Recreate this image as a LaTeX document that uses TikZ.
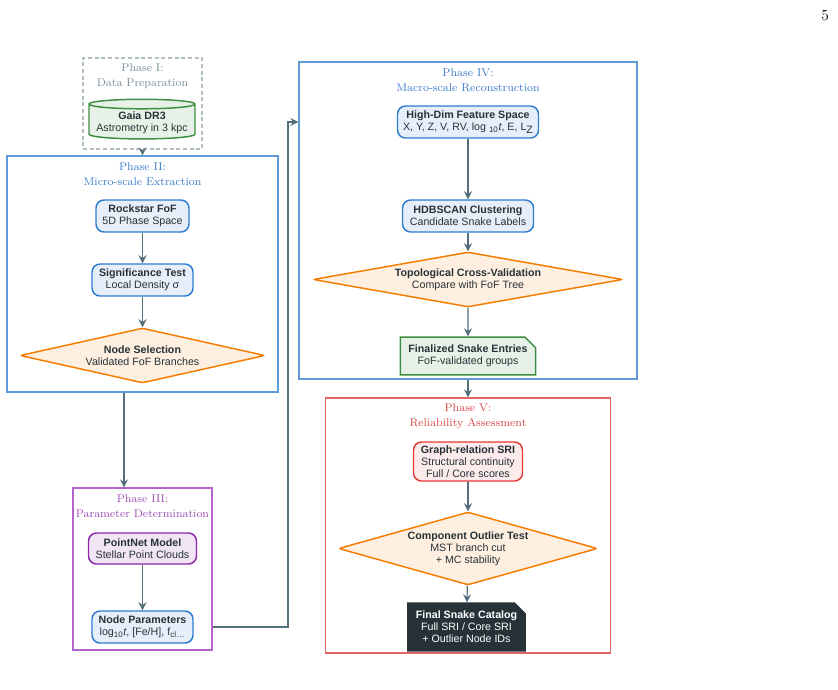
\documentclass[tikz,border=0pt]{standalone}
\usepackage{fontspec}
\setsansfont{Liberation Sans}
\usetikzlibrary{arrows.meta, positioning, shapes.geometric, shapes.misc, calc}
\definecolor{grisPizarra}{HTML}{546E7A}
\definecolor{grisTinta}{HTML}{263238}
\definecolor{grisMarco}{HTML}{B0BEC5}
\definecolor{grisTitulo}{HTML}{78909C}
\definecolor{azulNodo}{HTML}{2F7BD0}
\definecolor{azulMarco}{HTML}{5C9BD6}
\definecolor{azulTitulo}{HTML}{3D7CC9}
\definecolor{verdeNodo}{HTML}{3E8E41}
\definecolor{naranjaNodo}{HTML}{F57C00}
\definecolor{moradoNodo}{HTML}{8E24AA}
\definecolor{moradoMarco}{HTML}{B565C9}
\definecolor{moradoTitulo}{HTML}{9C4DB5}
\definecolor{rojoNodo}{HTML}{E53935}
\definecolor{rojoMarco}{HTML}{E06666}
\definecolor{rojoTitulo}{HTML}{D84545}
\colorlet{colArrow}{grisPizarra}
\colorlet{colText}{grisTinta}
\colorlet{colData}{verdeNodo}
\colorlet{colStep}{azulNodo}
\colorlet{colCheck}{naranjaNodo}
\colorlet{colModel}{moradoNodo}
\colorlet{colScore}{rojoNodo}
\tikzset{
  boxBase/.style={
    draw, line width=1.1pt, rounded corners=6pt,
    inner sep=2pt, align=center, text=colText,
    font=\sffamily\fontsize{8}{9}\selectfont
  },
  boxStep/.style={boxBase, draw=colStep, fill=colStep!12},
  boxModel/.style={boxBase, draw=colModel, fill=colModel!12},
  boxScore/.style={boxBase, draw=colScore, fill=colScore!10},
  boxCheck/.style={boxBase, diamond, aspect=#1, rounded corners=2pt, inner sep=0pt,
    draw=colCheck, fill=colCheck!12},
  boxData/.style={boxBase, cylinder, shape border rotate=90, aspect=0.1,
    rounded corners=0pt, inner sep=1.5pt, draw=colData, fill=colData!12},
  boxNote/.style={boxBase, chamfered rectangle,
    chamfered rectangle corners=north east,
    chamfered rectangle xsep=4pt, chamfered rectangle ysep=4pt,
    rounded corners=0pt,
    path picture={\draw[line width=0.6pt, draw=#1]
      ([xshift=-4pt]path picture bounding box.north east) |-
      ([yshift=-4pt]path picture bounding box.north east);}},
  boxFinal/.style={boxNote=white, draw=colText, fill=colText, text=white},
  phaseFrame/.style={draw, line width=0.9pt, inner sep=0pt},
  phaseTitle/.style={font=\fontsize{8.4}{11.25}\selectfont, align=center},
  flow/.style={-{Stealth[length=6pt, width=6pt, inset=2pt]}, line width=0.9pt, colArrow},
}
\begin{document}
\begin{tikzpicture}[x=0.75pt, y=-0.75pt]
  \useasboundingbox (0,0) rectangle (838,689);

  \node[phaseFrame, draw=grisMarco, dash pattern=on 3pt off 2pt,
    minimum width=89.25pt, minimum height=68.25pt] (p1) at (142.5,103.5) {};
  \node[phaseTitle, text=grisTitulo] (t1) at (142.5,76.5) {Phase I:\\Data Preparation};
  \node[phaseFrame, draw=azulMarco, minimum width=203.25pt, minimum height=177pt] (p2) at (142.5,274) {};
  \node[phaseTitle, text=azulTitulo] (t2) at (142.5,174.5) {Phase II:\\Micro-scale Extraction};
  \node[phaseFrame, draw=moradoMarco, minimum width=104.25pt, minimum height=121.5pt] (p3) at (142.5,569) {};
  \node[phaseTitle, text=moradoTitulo] (t3) at (142.5,506.5) {Phase III:\\Parameter Determination};
  \node[phaseFrame, draw=azulMarco, minimum width=253.5pt, minimum height=237.75pt] (p4) at (468,220.5) {};
  \node[phaseTitle, text=azulTitulo] (t4) at (468,80.5) {Phase IV:\\Macro-scale Reconstruction};
  \node[phaseFrame, draw=rojoMarco, minimum width=213.75pt, minimum height=191.25pt] (p5) at (468,525.5) {};
  \node[phaseTitle, text=rojoTitulo] (t5) at (468,416.5) {Phase V:\\Reliability Assessment};

  \node[boxData, minimum width=79.5pt, minimum height=27.75pt] (gaia) at (142,122.5)
    {\textbf{Gaia DR3}\\Astrometry in 3 kpc};
  \node[boxStep, minimum width=69.75pt, minimum height=24pt] (rock) at (142.5,216)
    {\textbf{Rockstar FoF}\\5D Phase Space};
  \node[boxStep, minimum width=75.75pt, minimum height=24pt] (sig) at (142.5,280)
    {\textbf{Significance Test}\\Local Density σ};
  \node[boxCheck=4.45, minimum width=183.75pt, minimum height=41.25pt] (nsel) at (142.5,355.5)
    {\textbf{Node Selection}\\Validated FoF Branches};
  \node[boxModel, minimum width=81pt, minimum height=23.25pt] (pnet) at (142.5,548.5)
    {\textbf{PointNet Model}\\Stellar Point Clouds};
  \node[boxStep, minimum width=75.75pt, minimum height=24pt] (npar) at (142.5,627)
    {\textbf{Node Parameters}\\log\textsubscript{10}\textit{t}, [Fe/H], f\textsubscript{cl}\textsubscript{\ldots}};

  \node[boxStep, minimum width=105.75pt, minimum height=24pt] (hdim) at (468,122)
    {\textbf{High-Dim Feature Space}\\X, Y, Z, V, RV, log \textsubscript{10}\textit{t}, E, L\raisebox{-2.5pt}{Z}};
  \node[boxStep, minimum width=98.25pt, minimum height=24pt] (hdb) at (468,216)
    {\textbf{HDBSCAN Clustering}\\Candidate Snake Labels};
  \node[boxCheck=5.64, minimum width=232.5pt, minimum height=41.25pt] (topo) at (468,279.5)
    {\textbf{Topological Cross-Validation}\\Compare with FoF Tree};
  \node[boxNote=colData, draw=colData, fill=colData!12, minimum width=100.5pt, minimum height=25.5pt] (fin) at (468,356)
    {\textbf{Finalized Snake Entries}\\FoF-validated groups};

  \node[boxScore, minimum width=81.75pt, minimum height=29.25pt] (sri) at (468,461.5)
    {\textbf{Graph-relation SRI}\\Structural continuity\\Full / Core scores};
  \node[boxCheck=3.55, minimum width=194.25pt, minimum height=54.75pt] (outl) at (468,548.5)
    {\textbf{Component Outlier Test}\\MST branch cut\\+ MC stability};
  \node[boxFinal, minimum width=86.25pt, minimum height=30pt] (cat) at (466.5,627)
    {\textbf{Final Snake Catalog}\\Full SRI / Core SRI\\+ Outlier Node IDs};

  \node[font=\fontsize{11.5}{12}\selectfont] (pnum) at (825,16) {5};

  \coordinate (elbow) at (288,627);
  \draw[flow] (p1) -- (p2);
  \draw[flow] (rock) -- (sig);
  \draw[flow] (sig) -- (nsel);
  \draw[flow] ($(p2.south)+(-18.5,0)$) -- ($(p3.north)+(-18.5,0)$);
  \draw[flow] (pnet) -- (npar);
  \draw[flow] (p3.east |- npar) -- (elbow) |- (p4.west |- hdim);
  \draw[flow] (hdim) -- (hdb);
  \draw[flow] (hdb) -- (topo);
  \draw[flow] (topo) -- (fin);
  \draw[flow] (p4) -- (p5);
  \draw[flow] (sri) -- (outl);
  \draw[flow] (outl) -- (cat);
\end{tikzpicture}
\end{document}
